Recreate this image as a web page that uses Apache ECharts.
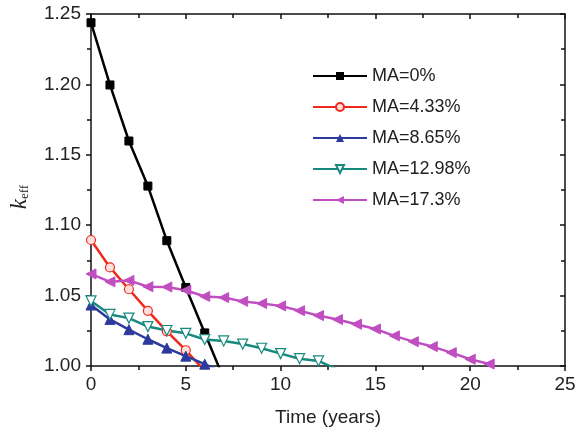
<!DOCTYPE html>
<html>
<head>
<meta charset="utf-8">
<script src="https://cdn.jsdelivr.net/npm/echarts@6/dist/echarts.min.js"></script>
<style>
  html, body { margin: 0; padding: 0; background: #fff; }
  #main { width: 581px; height: 432px; }
</style>
</head>
<body>
<div id="main"></div>
<script>
// burn-up time in years (index = year)
const years = [0, 1, 2, 3, 4, 5, 6, 7, 8, 9, 10, 11, 12, 13, 14, 15, 16, 17, 18, 19, 20, 21];

const names = ['MA=0%', 'MA=4.33%', 'MA=8.65%', 'MA=12.98%', 'MA=17.3%'];

const ma0 = [1.2438, 1.1996, 1.1598, 1.1278, 1.0890, 1.0558, 1.0235, 0.9910];
const ma433 = [1.0895, 1.0700, 1.0545, 1.0392, 1.0246, 1.0112, 0.9965];
const ma865 = [1.0433, 1.0331, 1.0258, 1.0190, 1.0127, 1.0070, 1.0013, 0.9950];
const ma1298 = [1.0462, 1.0366, 1.0340, 1.0280, 1.0252, 1.0232, 1.0188, 1.0178, 1.0156,
  1.0126, 1.0088, 1.0052, 1.0036, 0.9975];
const ma173 = [1.0654, 1.0598, 1.0608, 1.0563, 1.0561, 1.0538, 1.0494, 1.0486, 1.0459,
  1.0444, 1.0427, 1.0393, 1.0358, 1.0330, 1.0297, 1.0263, 1.0214, 1.0173, 1.0138,
  1.0095, 1.0048, 1.0014];

const xTicks = [0, 5, 10, 15, 20, 25];
const yTicks = [1.00, 1.05, 1.10, 1.15, 1.20, 1.25];

const font = '"Liberation Sans", Arial, sans-serif';

function pairs(vals) {
  return vals.map((v, i) => [years[i], v]);
}

const chart = echarts.init(document.getElementById('main'));

const axisCommon = {
  axisLine: { show: true, onZero: false, lineStyle: { color: '#111', width: 1.5 } },
  axisTick: { show: true, length: 5, lineStyle: { color: '#111', width: 1.5 } },
  minorTick: { show: true, splitNumber: 2, length: 4, lineStyle: { color: '#111', width: 1.5 } },
  splitLine: { show: false }
};

function series(name, vals, color, symbol, opts) {
  return Object.assign({
    name: name,
    type: 'line',
    data: pairs(vals),
    symbol: symbol,
    symbolSize: 8,
    clip: true,
    lineStyle: { color: color, width: 2.5 },
    itemStyle: { color: color, borderColor: color },
    z: 3
  }, opts || {});
}

const option = {
  animation: false,
  backgroundColor: '#fff',
  textStyle: { fontFamily: font },
  grid: { left: 86, right: 16, top: 14, bottom: 66 },
  legend: {
    orient: 'vertical',
    left: 307,
    top: 62,
    itemWidth: 54,
    itemHeight: 10,
    itemGap: 13,
    textStyle: { fontFamily: font, fontSize: 18, color: '#222' },
    data: names
  },
  xAxis: [
    Object.assign({
      type: 'value',
      min: 0, max: 25, interval: 5,
      position: 'bottom',
      name: 'Time (years)',
      nameLocation: 'middle',
      nameGap: 42,
      nameTextStyle: { fontFamily: font, fontSize: 19, color: '#222' },
      axisLabel: {
        fontFamily: font, fontSize: 19, color: '#222', margin: 9,
        formatter: v => xTicks.indexOf(v) >= 0 ? String(v) : ''
      }
    }, axisCommon),
    Object.assign({
      type: 'value',
      min: 0, max: 25, interval: 5,
      position: 'top',
      axisLabel: { show: false }
    }, axisCommon, {
      axisTick: { show: true, inside: true, length: 5, lineStyle: { color: '#111', width: 1.5 } },
      minorTick: { show: true, splitNumber: 2, length: 4, lineStyle: { color: '#111', width: 1.5 } }
    })
  ],
  yAxis: [
    Object.assign({
      type: 'value',
      min: 1.00, max: 1.25, interval: 0.05,
      position: 'left',
      name: '{k|k}{s|eff}',
      nameLocation: 'middle',
      nameGap: 60,
      nameRotate: 90,
      nameTextStyle: {
        padding: [0, 14, 0, 0],
        rich: {
          k: { fontFamily: '"Liberation Serif", "Times New Roman", serif', fontStyle: 'italic', fontSize: 23, color: '#222' },
          s: { fontFamily: '"Liberation Serif", "Times New Roman", serif', fontSize: 13, color: '#222', padding: [10, 0, 0, 0] }
        }
      },
      axisLabel: {
        fontFamily: font, fontSize: 19, color: '#222', margin: 10,
        formatter: v => {
          const hit = yTicks.find(t => Math.abs(t - v) < 1e-6);
          return hit === undefined ? '' : hit.toFixed(2);
        }
      }
    }, axisCommon),
    Object.assign({
      type: 'value',
      min: 1.00, max: 1.25, interval: 0.05,
      position: 'right',
      axisLabel: { show: false }
    }, axisCommon, {
      axisTick: { show: true, inside: true, length: 5, lineStyle: { color: '#111', width: 1.5 } },
      minorTick: { show: true, splitNumber: 2, length: 4, lineStyle: { color: '#111', width: 1.5 } }
    })
  ],
  series: [
    series(names[0], ma0, '#000000', 'rect', { symbolSize: 8 }),
    series(names[1], ma433, '#ee2a1e', 'circle', {
      symbolSize: 9,
      itemStyle: { color: '#fde0dc', borderColor: '#ee2a1e', borderWidth: 1.2 }
    }),
    series(names[2], ma865, '#2b3a9c', 'triangle', { symbolSize: 10 }),
    series(names[3], ma1298, '#17897f', 'triangle', {
      symbolSize: 10,
      symbolRotate: 180,
      itemStyle: { color: '#ffffff', borderColor: '#17897f', borderWidth: 1.2 }
    }),
    series(names[4], ma173, '#c04ec0', 'triangle', { symbolSize: 10, symbolRotate: 90 })
  ]
};

chart.setOption(option);
</script>
</body>
</html>
